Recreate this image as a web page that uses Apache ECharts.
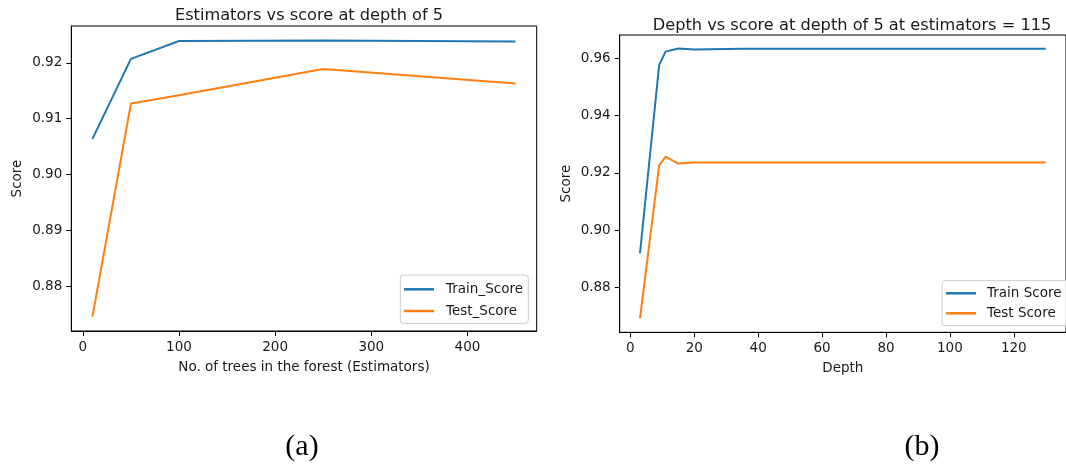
<!DOCTYPE html>
<html>
<head>
<meta charset="utf-8">
<title>Random forest score curves</title>
<script src="https://cdn.jsdelivr.net/npm/echarts@6/dist/echarts.min.js"></script>
<style>
  html, body { margin: 0; padding: 0; background: #fff; }
  #chart { width: 1066px; height: 467px; }
</style>
</head>
<body>
<div id="chart"></div>
<script>
// Panel (a): score against number of trees, depth fixed at 5
const estimators = [10, 50, 100, 250, 450];
const estTrain = [0.9064, 0.9207, 0.9239, 0.9240, 0.9238];
const estTest = [0.8746, 0.9127, 0.9142, 0.9189, 0.9163];
const estXTicks = [0, 100, 200, 300, 400];
const estYTicks = [0.88, 0.89, 0.90, 0.91, 0.92];

// Panel (b): score against tree depth, 115 estimators
const depths = [3, 9, 11, 15, 20, 35, 130];
const depthTrain = [0.8919, 0.9576, 0.9623, 0.9634, 0.9630, 0.9633, 0.9633];
const depthTest = [0.8692, 0.9226, 0.9256, 0.9232, 0.9236, 0.9236, 0.9236];
const depthXTicks = [0, 20, 40, 60, 80, 100, 120];
const depthYTicks = [0.88, 0.90, 0.92, 0.94, 0.96];

const BLUE = '#1f77b4';
const ORANGE = '#ff7f0e';
const FONT = 'DejaVu Sans';
const INK = '#1a1a1a';

function pairs(xs, ys) { return xs.map((x, i) => [x, ys[i]]); }

function xAxisCfg(gridIndex, min, max, ticks, name) {
  return {
    type: 'value', gridIndex, min, max,
    name, nameLocation: 'middle', nameGap: 29,
    nameTextStyle: { fontFamily: FONT, fontSize: 13.5, color: INK },
    axisLine: { show: true, onZero: false, lineStyle: { color: '#000', width: 1 } },
    axisTick: { show: true, length: 5, inside: false, customValues: ticks, lineStyle: { color: '#000', width: 1 } },
    axisLabel: { customValues: ticks, margin: 9, fontFamily: FONT, fontSize: 13.5, color: INK },
    splitLine: { show: false }
  };
}

function yAxisCfg(gridIndex, min, max, ticks, nameGap) {
  return {
    type: 'value', gridIndex, min, max,
    name: 'Score', nameLocation: 'middle', nameGap,
    nameTextStyle: { fontFamily: FONT, fontSize: 13.5, color: INK },
    axisLine: { show: true, onZero: false, lineStyle: { color: '#000', width: 1 } },
    axisTick: { show: true, length: 5, inside: false, customValues: ticks, lineStyle: { color: '#000', width: 1 } },
    axisLabel: { customValues: ticks, margin: 9, fontFamily: FONT, fontSize: 13.5, color: INK,
      formatter: v => v.toFixed(2) },
    splitLine: { show: false }
  };
}

function legendCfg(names, left, top, padding, itemGap, textPad) {
  return {
    data: names, orient: 'vertical', left, top, padding, itemGap,
    icon: 'rect', itemWidth: 30, itemHeight: 2.5,
    backgroundColor: 'rgba(255,255,255,0.8)', borderColor: '#cccccc', borderWidth: 1, borderRadius: 3,
    textStyle: { fontFamily: FONT, fontSize: 13.5, color: INK, lineHeight: 14, padding: [0, 0, 0, textPad] },
    selectedMode: false
  };
}

function lineSeries(name, xi, yi, xs, ys, color) {
  return {
    name, type: 'line', xAxisIndex: xi, yAxisIndex: yi,
    data: pairs(xs, ys), symbol: 'none', smooth: false, animation: false,
    itemStyle: { color }, lineStyle: { color, width: 2 }
  };
}

function caption(text, cx, cy) {
  return {
    type: 'text', x: cx, y: cy,
    style: { text, fontFamily: 'Liberation Serif', fontSize: 30, fill: '#000', align: 'center', verticalAlign: 'middle' }
  };
}

const chart = echarts.init(document.getElementById('chart'), null, { renderer: 'canvas' });
chart.setOption({
  backgroundColor: '#ffffff',
  animation: false,
  title: [
    { text: 'Estimators vs score at depth of 5', left: 304, top: 3, textAlign: 'center',
      textStyle: { fontFamily: FONT, fontSize: 16.2, fontWeight: 'normal', color: INK } },
    { text: 'Depth vs score at depth of 5 at estimators = 115', left: 847, top: 12.5, textAlign: 'center',
      textStyle: { fontFamily: FONT, fontSize: 16.2, fontWeight: 'normal', color: INK } }
  ],
  grid: [
    { left: 71.3, top: 26, width: 465.4, height: 305, show: true, borderColor: '#000', borderWidth: 1, backgroundColor: 'transparent' },
    { left: 619.7, top: 35, width: 454, height: 297.3, show: true, borderColor: '#000', borderWidth: 1, backgroundColor: 'transparent' }
  ],
  xAxis: [
    xAxisCfg(0, -12, 472, estXTicks, 'No. of trees in the forest (Estimators)'),
    xAxisCfg(1, -3.35, 136.35, depthXTicks, 'Depth')
  ],
  yAxis: [
    yAxisCfg(0, 0.87202, 0.92658, estYTicks, 47),
    yAxisCfg(1, 0.8643, 0.9681, depthYTicks, 46)
  ],
  legend: [
    legendCfg(['Train_Score', 'Test_Score'], 400.3, 275, [7.3, 5.3, 5.3, 3.7], 7.7, 7),
    legendCfg(['Train Score', 'Test Score'], 942, 280.7, [5.6, 12, 5.4, 4], 6, 6)
  ],
  series: [
    lineSeries('Train_Score', 0, 0, estimators, estTrain, BLUE),
    lineSeries('Test_Score', 0, 0, estimators, estTest, ORANGE),
    lineSeries('Train Score', 1, 1, depths, depthTrain, BLUE),
    lineSeries('Test Score', 1, 1, depths, depthTest, ORANGE)
  ],
  graphic: [
    caption('(a)', 302, 447),
    caption('(b)', 922, 447)
  ]
});
</script>
</body>
</html>
